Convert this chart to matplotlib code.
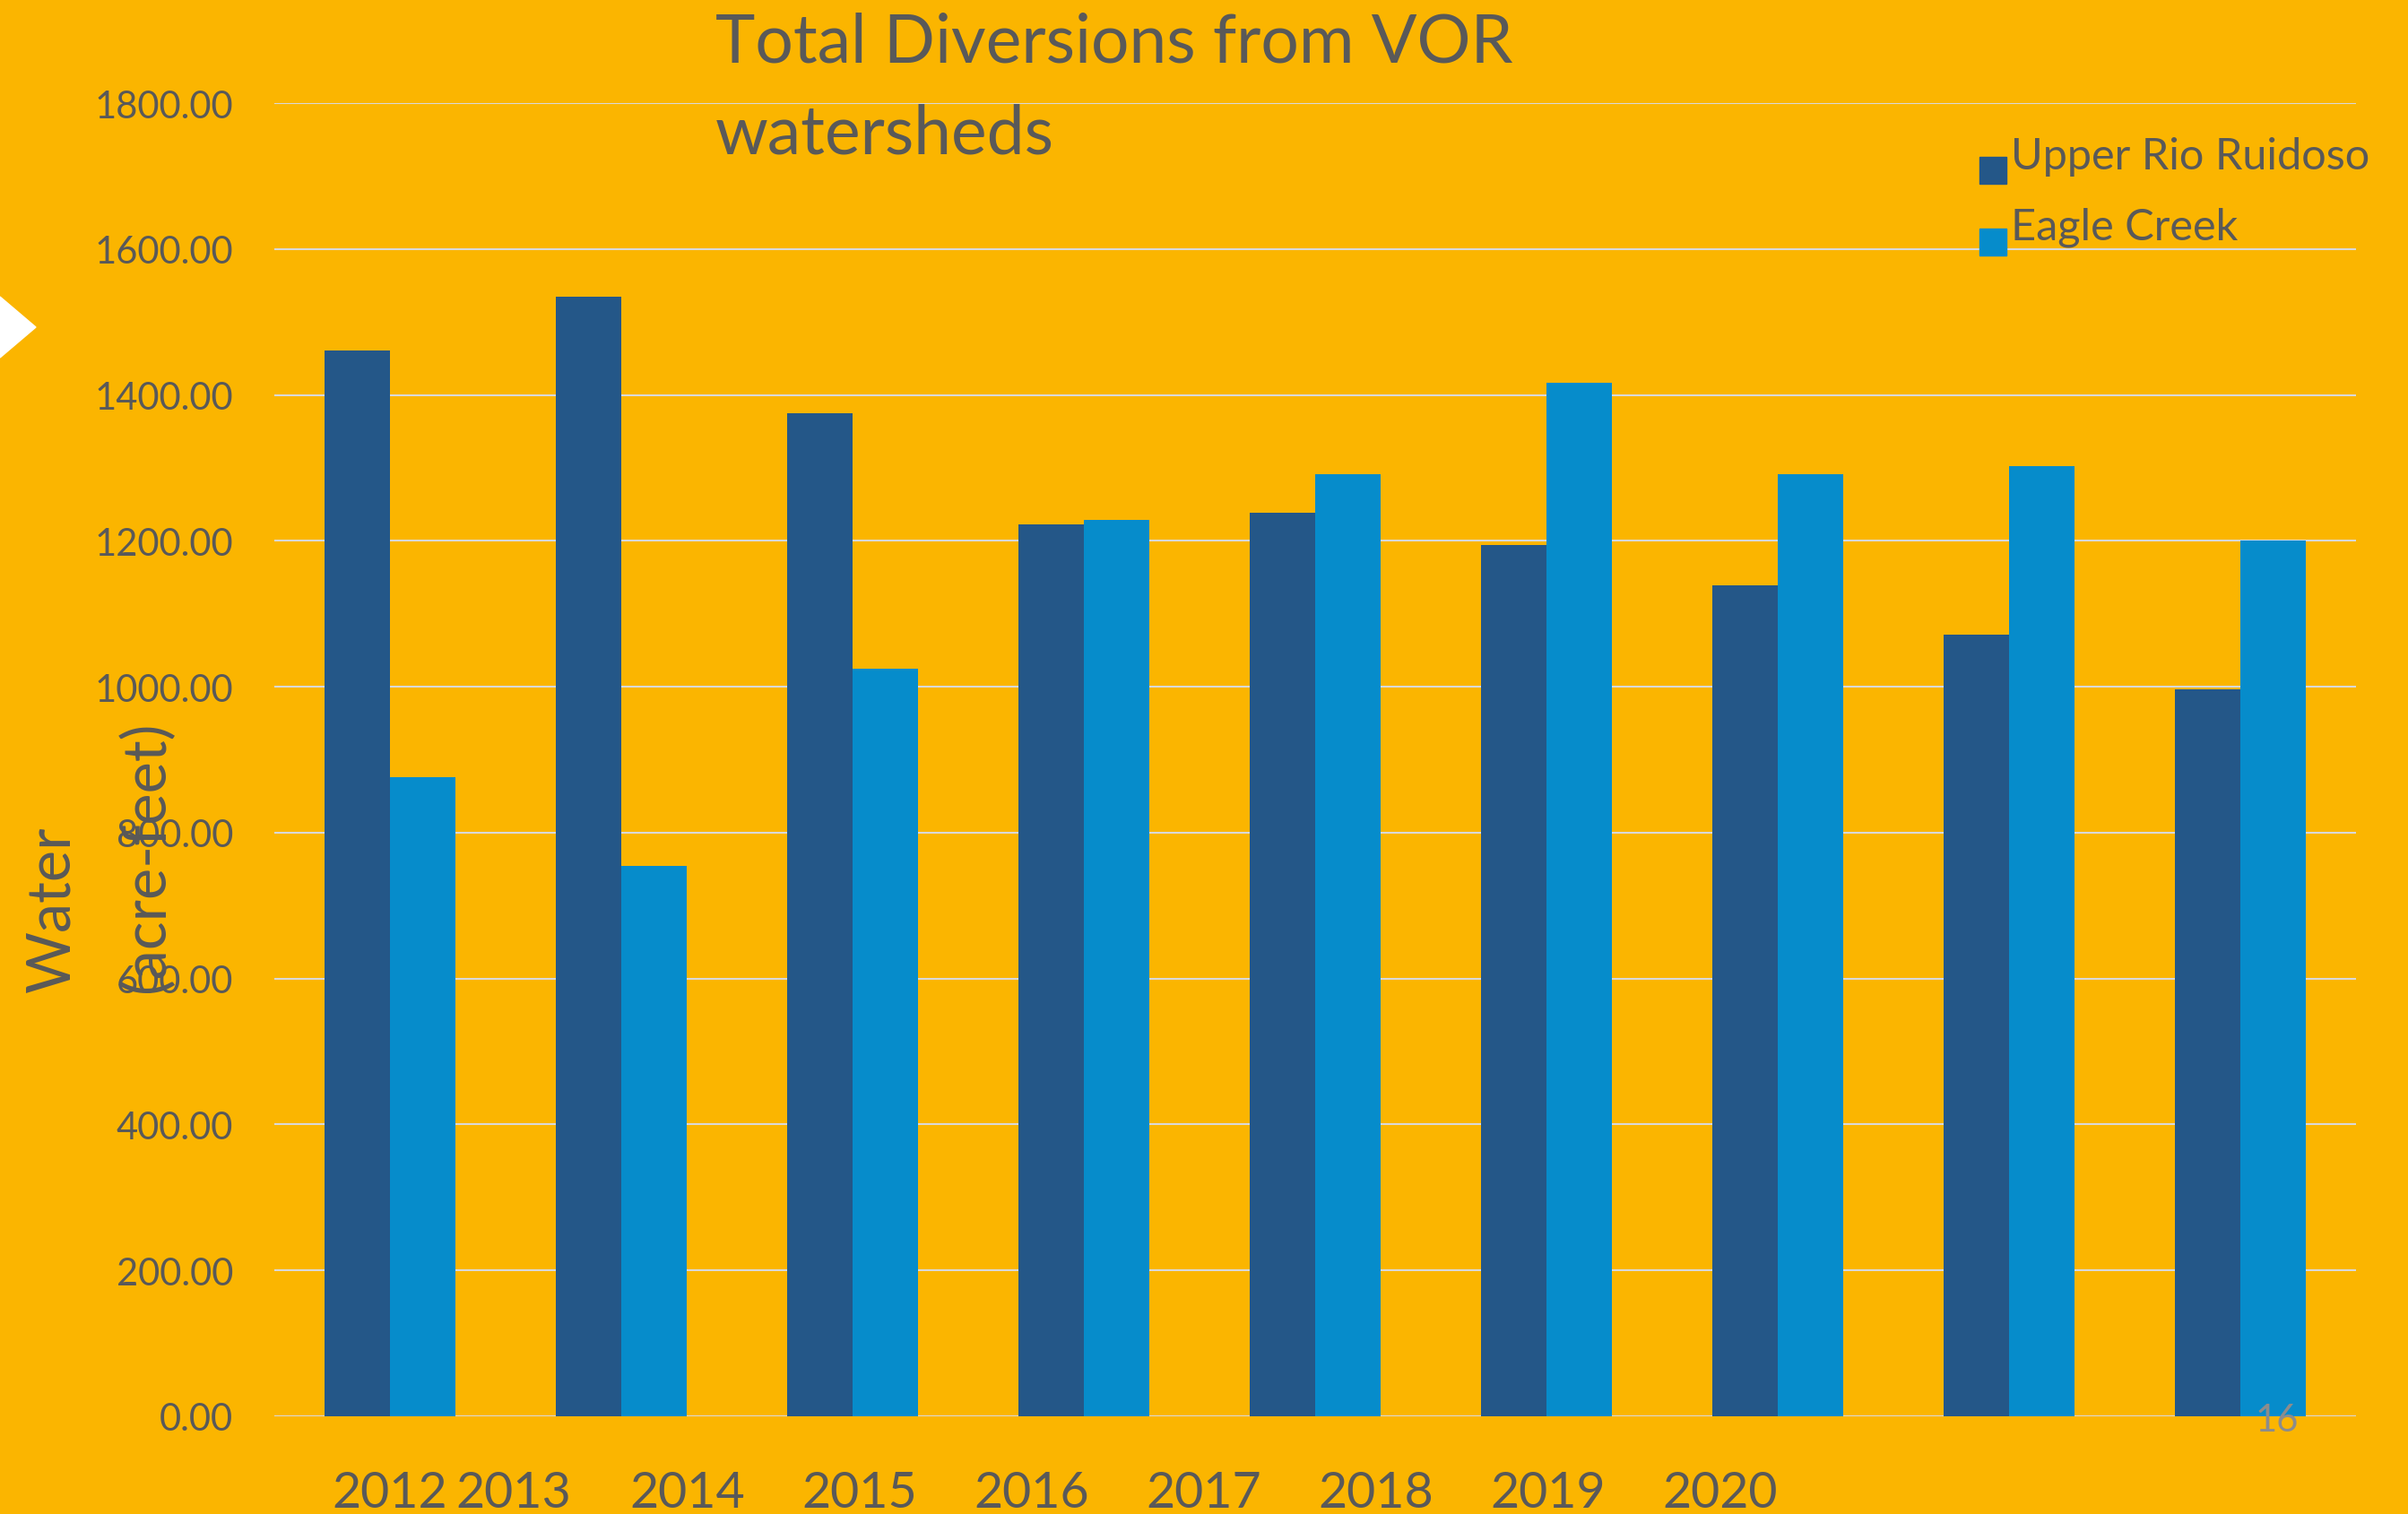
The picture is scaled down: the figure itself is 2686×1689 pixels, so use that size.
import matplotlib
matplotlib.use("Agg")
import matplotlib.pyplot as plt
from matplotlib.patches import Polygon, Rectangle
import numpy as np

plt.rcParams['font.family'] = ['Lato', 'DejaVu Sans']

# data
years = ['2012', '2013', '2014', '2015', '2016', '2017', '2018', '2019', '2020']
series_names = ['Upper Rio Ruidoso', 'Eagle Creek']
upper_rio_ruidoso = [1461, 1535, 1375, 1223, 1238, 1194, 1139, 1072, 996]
eagle_creek = [876, 754, 1025, 1229, 1291, 1417, 1291, 1303, 1200]
y_ticks = [0, 200, 400, 600, 800, 1000, 1200, 1400, 1600, 1800]

BG = '#FBB500'
DARK = '#245788'
LIGHT = '#068CCB'
TXT = '#595959'
GRID = '#D9D9D9'

W, H = 2686, 1690
fig = plt.figure(figsize=(W / 100, H / 100), dpi=100, facecolor=BG)

# axes placed in pixel terms
left, right, top, bottom = 306, 2628, 116, 1581
ax = fig.add_axes([left / W, 1 - bottom / H, (right - left) / W, (bottom - top) / H])
ax.set_facecolor(BG)

x = np.arange(len(upper_rio_ruidoso))
bw = 0.283
b1 = ax.bar(x - bw / 2, upper_rio_ruidoso, bw, color=DARK, zorder=3)
b2 = ax.bar(x + bw / 2, eagle_creek, bw, color=LIGHT, zorder=3)

ax.set_xlim(-0.5, len(x) - 0.5)
ax.set_ylim(0, 1800)
ax.set_yticks(y_ticks)
ax.set_yticklabels([f'{v:.2f}' for v in y_ticks])
ax.tick_params(axis='y', length=0, pad=33, labelsize=30, labelcolor=TXT)
ax.set_xticks([])
for s in ax.spines.values():
    s.set_visible(False)
ax.yaxis.grid(True, color=GRID, linewidth=1.5, zorder=0)
ax.set_axisbelow(True)

# title (left aligned text box)
fig.text(798 / W, 1 - 70 / H, 'Total Diversions from VOR', fontsize=54,
         color=TXT, ha='left', va='baseline')
fig.text(798 / W, 1 - 172 / H, 'watersheds', fontsize=54,
         color=TXT, ha='left', va='baseline')

# y axis label, two rotated lines (they run over the tick labels, as in the slide)
fig.text(58 / W, 1 - 1107 / H, 'Water', fontsize=48, color=TXT,
         rotation=90, ha='center', va='bottom')
fig.text(164 / W, 1 - 1107 / H, '(acre-feet)', fontsize=48, color=TXT,
         rotation=90, ha='center', va='bottom')

# year labels sit in their own text row under the chart
label_x = [435, 573] + [767 + 192 * i for i in range(len(years) - 2)]
for yr, lx in zip(years, label_x):
    fig.text(lx / W, 1 - 1682 / H, yr, fontsize=40, color=TXT,
             ha='center', va='baseline')

# legend drawn by hand
for i, (name, bars) in enumerate(zip(series_names, [b1, b2])):
    sq_top = 176 + 80 * i
    fig.patches.append(Rectangle((2208 / W, 1 - (sq_top + 30) / H), 30 / W, 30 / H,
                                 transform=fig.transFigure,
                                 color=bars.patches[0].get_facecolor()))
    fig.text(2243 / W, 1 - (189 + 78 * i) / H, name, fontsize=35, color=TXT,
             ha='left', va='baseline')

# slide number and the white arrow on the left edge
fig.text(2540 / W, 1 - 1597 / H, '16', fontsize=30, color='#8C8C8C',
         ha='center', va='baseline')
fig.patches.append(Polygon([(0, 1 - 332 / H), (40 / W, 1 - 366 / H), (0, 1 - 400 / H)],
                           closed=True, transform=fig.transFigure, color='white'))

fig.savefig('out.png', dpi=100, facecolor=BG)
